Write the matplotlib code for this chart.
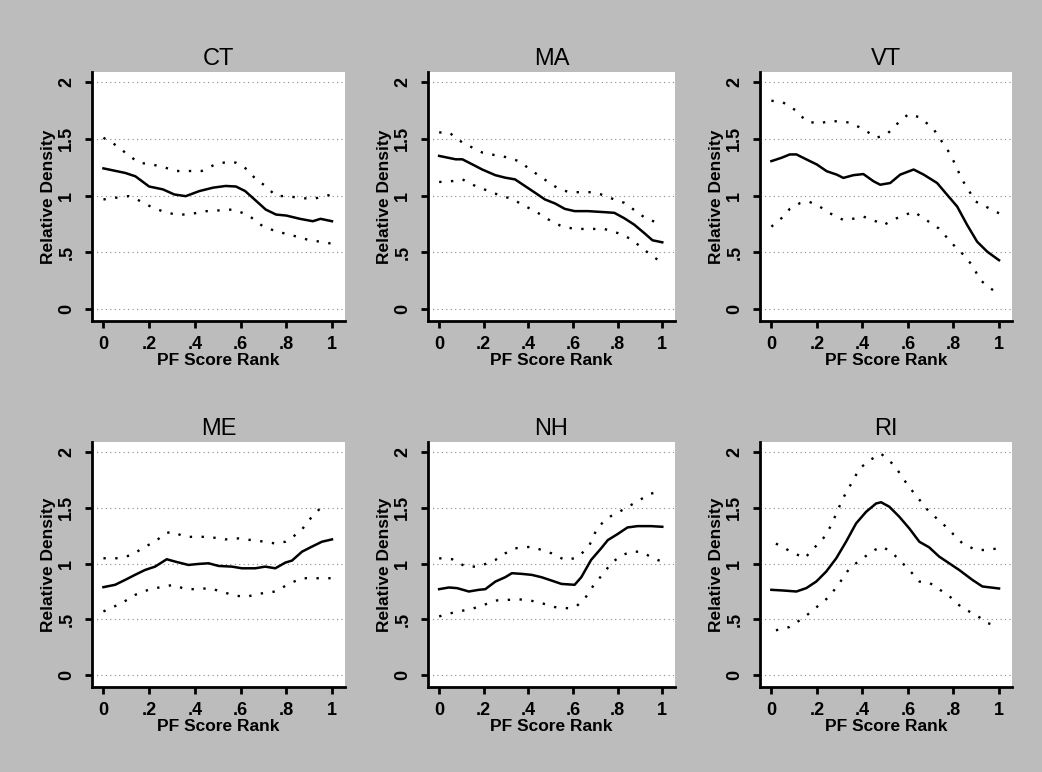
import matplotlib.pyplot as plt

# Relative density by PF score rank, solid = estimate, dotted = bounds
states = ["CT", "MA", "VT", "ME", "NH", "RI"]

ct_est_x = [0, .095, .14, .2, .26, .31, .36, .42, .48, .535, .58, .62, .67, .71, .755, .8, .86, .916, .95, 1]
ct_est_y = [1.24, 1.20, 1.17, 1.08, 1.055, 1.01, .995, 1.04, 1.07, 1.085, 1.08, 1.04, .95, .877, .833, .824, .795, .774, .795, .774]
ct_hi_x = [0, .05, .095, .154, .21, .27, .315, .37, .43, .49, .55, .58, .63, .667, .71, .755, .8, .86, .916, 1]
ct_hi_y = [1.51, 1.45, 1.38, 1.29, 1.276, 1.247, 1.217, 1.217, 1.217, 1.276, 1.30, 1.29, 1.23, 1.143, 1.084, .996, .996, .98, .97, 1.01]
ct_lo_x = [0, .05, .11, .147, .2, .26, .315, .37, .447, .565, .63, .697, .755, .814, .894, 1]
ct_lo_y = [.966, .98, .995, .966, .91, .86, .833, .833, .862, .877, .833, .73, .685, .656, .611, .576]

ma_est_x = [0, .074, .104, .148, .193, .252, .296, .34, .385, .43, .474, .52, .563, .607, .667, .74, .785, .83, .874, .919, .956, 1]
ma_est_y = [1.35, 1.32, 1.32, 1.276, 1.23, 1.18, 1.158, 1.143, 1.084, 1.025, .966, .93, .883, .863, .863, .854, .848, .80, .744, .67, .606, .588]
ma_hi_x = [0, .044, .104, .193, .252, .28, .356, .444, .504, .54, .585, .68, .726, .785, .83, .933, 1]
ma_hi_y = [1.557, 1.557, 1.468, 1.38, 1.356, 1.35, 1.305, 1.18, 1.10, 1.055, 1.03, 1.03, 1.01, .966, .936, .789, .753]
ma_lo_x = [0, .06, .104, .163, .222, .28, .326, .385, .43, .489, .548, .607, .696, .74, .8, .86, .919, .956, 1]
ma_lo_y = [1.12, 1.128, 1.143, 1.084, 1.04, .996, .972, .907, .863, .79, .73, .706, .706, .706, .67, .617, .523, .464, .41]

vt_est_x = [0, .044, .081, .11, .154, .2, .243, .287, .316, .36, .404, .449, .478, .522, .566, .625, .669, .728, .772, .816, .86, .904, .949, 1]
vt_est_y = [1.304, 1.333, 1.363, 1.363, 1.319, 1.274, 1.215, 1.185, 1.156, 1.18, 1.19, 1.126, 1.096, 1.111, 1.185, 1.23, 1.185, 1.111, 1.007, .904, .741, .593, .504, .43]
vt_hi_x = [0, .051, .11, .154, .213, .257, .346, .404, .463, .507, .566, .603, .654, .713, .757, .787, .838, .897, 1]
vt_hi_y = [1.837, 1.822, 1.748, 1.653, 1.636, 1.66, 1.644, 1.585, 1.511, 1.54, 1.66, 1.719, 1.689, 1.585, 1.452, 1.363, 1.14, .948, .844]
vt_lo_x = [0, .044, .081, .125, .162, .2, .257, .316, .375, .404, .463, .493, .55, .625, .669, .735, .801, .846, .882, .919, .985]
vt_lo_y = [.726, .80, .883, .933, .948, .919, .844, .785, .80, .815, .77, .741, .80, .859, .80, .711, .563, .474, .385, .252, .148]

me_est_x = [0, .051, .095, .139, .182, .226, .277, .314, .372, .416, .46, .504, .562, .606, .664, .708, .752, .796, .825, .869, .912, .956, 1]
me_est_y = [.789, .81, .854, .90, .943, .973, 1.039, 1.018, .988, .997, 1.003, .979, .973, .958, .958, .973, .958, 1.009, 1.027, 1.107, 1.152, 1.196, 1.217]
me_hi_x = [0, .066, .124, .182, .226, .27, .30, .358, .46, .533, .591, .65, .708, .752, .796, .861, .912, .97]
me_hi_y = [1.048, 1.048, 1.077, 1.152, 1.196, 1.271, 1.286, 1.24, 1.24, 1.217, 1.226, 1.21, 1.196, 1.18, 1.196, 1.286, 1.42, 1.539]
me_lo_x = [0, .08, .139, .204, .307, .358, .416, .46, .518, .562, .62, .679, .752, .818, .869, .927, 1]
me_lo_y = [.571, .646, .72, .771, .81, .771, .771, .78, .75, .72, .70, .729, .75, .825, .869, .869, .869]

nh_est_x = [0, .044, .081, .133, .178, .207, .252, .296, .326, .37, .415, .459, .504, .548, .607, .637, .681, .726, .756, .8, .844, .889, .948, 1]
nh_est_y = [.771, .786, .78, .75, .765, .771, .839, .878, .914, .908, .899, .878, .848, .818, .81, .878, 1.033, 1.137, 1.211, 1.265, 1.324, 1.336, 1.336, 1.33]
nh_hi_x = [0, .059, .119, .178, .252, .296, .34, .415, .459, .504, .563, .607, .637, .674, .711, .77, .807, .859, .948, 1]
nh_hi_y = [1.048, 1.039, .973, .973, 1.033, 1.092, 1.137, 1.152, 1.122, 1.092, 1.033, 1.048, 1.086, 1.167, 1.33, 1.426, 1.464, 1.524, 1.628, 1.643]
nh_lo_x = [0, .067, .148, .259, .356, .407, .459, .519, .578, .615, .659, .696, .741, .77, .815, .859, .904, .97, 1]
nh_lo_y = [.527, .563, .595, .67, .68, .67, .646, .61, .60, .616, .705, .818, .922, 1.003, 1.07, 1.107, 1.107, 1.039, 1.018]

ri_est_x = [0, .051, .11, .153, .197, .241, .285, .328, .372, .416, .46, .482, .518, .562, .606, .65, .693, .737, .781, .825, .883, .927, 1]
ri_est_y = [.765, .759, .75, .78, .839, .929, 1.048, 1.196, 1.36, 1.464, 1.539, 1.55, 1.51, 1.42, 1.315, 1.196, 1.146, 1.063, 1.003, .943, .854, .795, .777]
ri_hi_x = [.02, .044, .102, .146, .234, .263, .314, .343, .387, .431, .482, .54, .60, .693, .752, .839, .898, .942, 1]
ri_hi_y = [1.18, 1.152, 1.092, 1.048, 1.241, 1.345, 1.583, 1.688, 1.851, 1.926, 1.985, 1.881, 1.70, 1.464, 1.36, 1.182, 1.122, 1.122, 1.137]
ri_lo_x = [.02, .08, .146, .255, .314, .343, .401, .453, .489, .533, .562, .606, .65, .693, .781, .839, .898, .949, 1]
ri_lo_y = [.402, .432, .521, .705, .869, .958, 1.048, 1.122, 1.152, 1.092, 1.033, .943, .839, .83, .71, .601, .542, .467, .437]

panels = {
    "CT": (ct_est_x, ct_est_y, ct_hi_x, ct_hi_y, ct_lo_x, ct_lo_y),
    "MA": (ma_est_x, ma_est_y, ma_hi_x, ma_hi_y, ma_lo_x, ma_lo_y),
    "VT": (vt_est_x, vt_est_y, vt_hi_x, vt_hi_y, vt_lo_x, vt_lo_y),
    "ME": (me_est_x, me_est_y, me_hi_x, me_hi_y, me_lo_x, me_lo_y),
    "NH": (nh_est_x, nh_est_y, nh_hi_x, nh_hi_y, nh_lo_x, nh_lo_y),
    "RI": (ri_est_x, ri_est_y, ri_hi_x, ri_hi_y, ri_lo_x, ri_lo_y),
}

x_ticks = [0, .2, .4, .6, .8, 1]
x_tick_labels = ["0", ".2", ".4", ".6", ".8", "1"]
y_ticks = [0, .5, 1, 1.5, 2]
y_tick_labels = ["0", ".5", "1", "1.5", "2"]

plt.rcParams['font.family'] = ['Liberation Sans', 'DejaVu Sans']

fig = plt.figure(figsize=(10.42, 7.72), dpi=100, facecolor='#bcbcbc')

# axes boxes in pixels: (left, right) per column, (top, bottom) per row
cols = [(92, 345), (428, 675), (760, 1012)]
rows = [(72, 321), (442, 687)]
W, H = 1042, 772

for i, st in enumerate(states):
    l, r = cols[i % 3]
    t, b = rows[i // 3]
    ax = fig.add_axes([l / W, 1 - b / H, (r - l) / W, (b - t) / H])
    ax.set_facecolor('white')
    ex, ey, hx, hy, lx, ly = panels[st]

    for yv in y_ticks:
        ax.axhline(yv, color='#8a8a8a', lw=0.8, ls=(0, (1, 3)), zorder=1)

    ax.plot(hx, hy, color='black', lw=1.7, ls=(0, (1, 4)), zorder=2)
    ax.plot(lx, ly, color='black', lw=1.7, ls=(0, (1, 4)), zorder=2)
    ax.plot(ex, ey, color='black', lw=1.8, zorder=3)

    ax.set_xlim(-0.05, 1.057)
    ax.set_ylim(-0.106, 2.09)
    ax.set_xticks(x_ticks)
    ax.set_xticklabels(x_tick_labels, fontsize=13, fontweight='bold')
    ax.set_yticks(y_ticks)
    ax.set_yticklabels(y_tick_labels, fontsize=13, fontweight='bold',
                       rotation=90, va='center')
    ax.tick_params(axis='both', direction='out', length=5, width=2, color='black')
    ax.tick_params(axis='y', pad=7)
    ax.tick_params(axis='x', pad=6)

    for side in ['top', 'right']:
        ax.spines[side].set_visible(False)
    for side in ['left', 'bottom']:
        ax.spines[side].set_linewidth(2)

    ax.set_title(st, fontsize=17, pad=5)
    ax.set_xlabel("PF Score Rank", fontsize=12.5, fontweight='bold', labelpad=0)
    ax.set_ylabel("Relative Density", fontsize=12.5, fontweight='bold', labelpad=2)

fig.savefig("out.png", dpi=100, facecolor=fig.get_facecolor())
